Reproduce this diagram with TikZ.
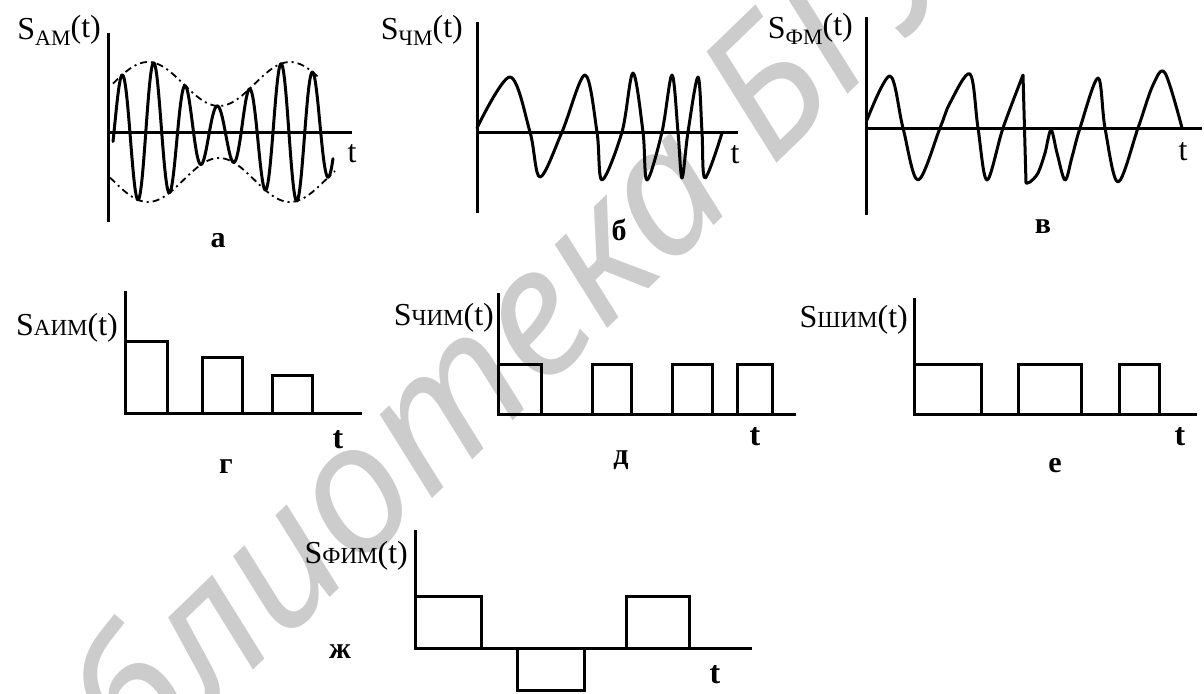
\documentclass[tikz,border=0pt]{standalone}
\usepackage{fontspec}
\setmainfont{Liberation Serif}
\newfontfamily\wmfont{Noto Sans}
\newcommand{\labA}[1]{S\raisebox{-6pt}{\fontsize{22}{22}\selectfont #1}\raisebox{2pt}{(t)}}
\newcommand{\labB}[1]{S{\fontsize{23}{23}\selectfont #1}(t)}
\begin{document}
\begin{tikzpicture}[x=1pt,y=-1pt,
  ax/.style={line width=3pt},
  sig/.style={line width=3pt, line join=round, line cap=round},
  env/.style={line width=1.8pt, dash pattern=on 7pt off 4pt on 2pt off 4pt},
  pulse/.style={line width=3pt, line join=miter},
  lab/.style={anchor=base east, inner sep=0pt, font=\fontsize{32}{32}\selectfont},
  capt/.style={anchor=base, inner sep=0pt, font=\fontsize{30}{30}\selectfont\bfseries},
  tlab/.style={anchor=base, inner sep=0pt, font=\fontsize{32}{32}\selectfont},
  tlabb/.style={anchor=base, inner sep=0pt, font=\fontsize{32}{32}\selectfont\bfseries},
  wmark/.style={rotate=44, inner sep=0pt, text=black!20,
      font=\wmfont\itshape\fontsize{180}{180}\selectfont}
]
\path[use as bounding box] (0,0) rectangle (1204,693);
% watermark
\begin{scope}
\clip (0,0) rectangle (1204,693);
\node[wmark, anchor=base east] (wm1) at (741,200) {библиотека};
\node[wmark, anchor=base west] (wm2) at (772,168) {БГУИР};
\end{scope}

% ---------- panel a (AM)
\draw[ax] (108,33) -- (108,222);
\draw[ax] (108,132) -- (352,132);
\draw[sig] plot[domain=113:333, samples=400, smooth]
  (\x, {132-(48+22*cos((\x-148)*2.5352))*sin((\x-114)*11.3208)});
\draw[env] plot[domain=113:318, samples=80, smooth]
  (\x, {132-(48+22*cos((\x-148)*2.5352))});
\draw[env] plot[domain=110:335, samples=80, smooth]
  (\x, {132+(48+22*cos((\x-148)*2.5352))});
\node[lab] (la) at (101,40) {\labA{АМ}};
\node[tlab] (ta) at (352,162) {t};
\node[capt] (ca) at (218,247) {а};

% ---------- panel b (FM)
\draw[ax] (477,22) -- (477,213);
\draw[ax] (477,132) -- (738,132);
\draw[sig] plot[smooth, tension=0.55] coordinates {
  (477,128) (510,77) (530,132) (540,177) (562,132) (585,75) (597,132)
  (602,180) (622,132) (633,73) (643,132) (647,180) (662,132) (672,75)
  (678,132) (682,178) (688,132) (698,77) (702,132) (705,178) (722,133)};
\node[lab] (lb) at (463,40) {\labA{ЧМ}};
\node[tlab] (tb) at (735,163) {t};
\node[capt] (cb) at (619,240) {б};

% ---------- panel c (PM)
\draw[ax] (866,17) -- (866,215);
\draw[ax] (866,128) -- (1202,128);
\draw[sig] plot[smooth, tension=0.55] coordinates {
  (867,120) (890,76) (903,128) (918,180) (940,128) (950,103) (970,74)
  (978,128) (987,180) (1003,128) (1023,75)}
  -- plot[smooth, tension=0.55] coordinates {
  (1026,183) (1030,182) (1038,173) (1045,153) (1051,130) (1057,153)
  (1065,180) (1072,157) (1080,128) (1098,78) (1105,128) (1118,182)
  (1138,128) (1153,85) (1165,73) (1182,128)};
\node[lab] (lc) at (853,38) {\labA{ФМ}};
\node[tlab] (tc) at (1183,160) {t};
\node[capt] (cc) at (1043,233) {в};

% ---------- panel g (AIM)
\draw[pulse] (125,291) -- (125,413) -- (362,413);
\draw[pulse] (125,341) -- (167,341) -- (167,413);
\draw[pulse] (202,413) -- (202,357) -- (242,357) -- (242,413);
\draw[pulse] (272,413) -- (272,375) -- (312,375) -- (312,413);
\node[lab] (lg) at (118,335) {\labB{АИМ}};
\node[tlabb] (tg) at (338,448) {t};
\node[capt] (cg) at (226,473) {г};

% ---------- panel d (ChIM)
\draw[pulse] (498,293) -- (498,414) -- (796,414);
\draw[pulse] (498,364) -- (541,364) -- (541,414);
\draw[pulse] (592,414) -- (592,364) -- (631,364) -- (631,414);
\draw[pulse] (672,414) -- (672,364) -- (712,364) -- (712,414);
\draw[pulse] (737,414) -- (737,364) -- (772,364) -- (772,414);
\node[lab] (ld) at (494,325) {\labB{ЧИМ}};
\node[tlabb] (td) at (755,445) {t};
\node[capt] (cd) at (621,464) {д};

% ---------- panel e (ShIM)
\draw[pulse] (914,298) -- (914,414) -- (1197,414);
\draw[pulse] (914,364) -- (981,364) -- (981,414);
\draw[pulse] (1018,414) -- (1018,364) -- (1081,364) -- (1081,414);
\draw[pulse] (1119,414) -- (1119,364) -- (1159,364) -- (1159,414);
\node[lab] (le) at (908,327) {\labB{ШИМ}};
\node[tlabb] (te) at (1180,445) {t};
\node[capt] (ce) at (1055,472) {е};

% ---------- panel zh (FIM)
\draw[pulse] (415,530) -- (415,648) -- (752,648);
\draw[pulse] (415,596) -- (481,596) -- (481,648);
\draw[pulse] (517,648) -- (517,690.5) -- (584,690.5) -- (584,648);
\draw[pulse] (626,648) -- (626,596) -- (689,596) -- (689,648);
\node[lab] (lzh) at (408,563) {\labB{ФИМ}};
\node[tlabb] (tzh) at (715,683) {t};
\node[capt] (czh) at (340,658) {ж};
\end{tikzpicture}
\end{document}
